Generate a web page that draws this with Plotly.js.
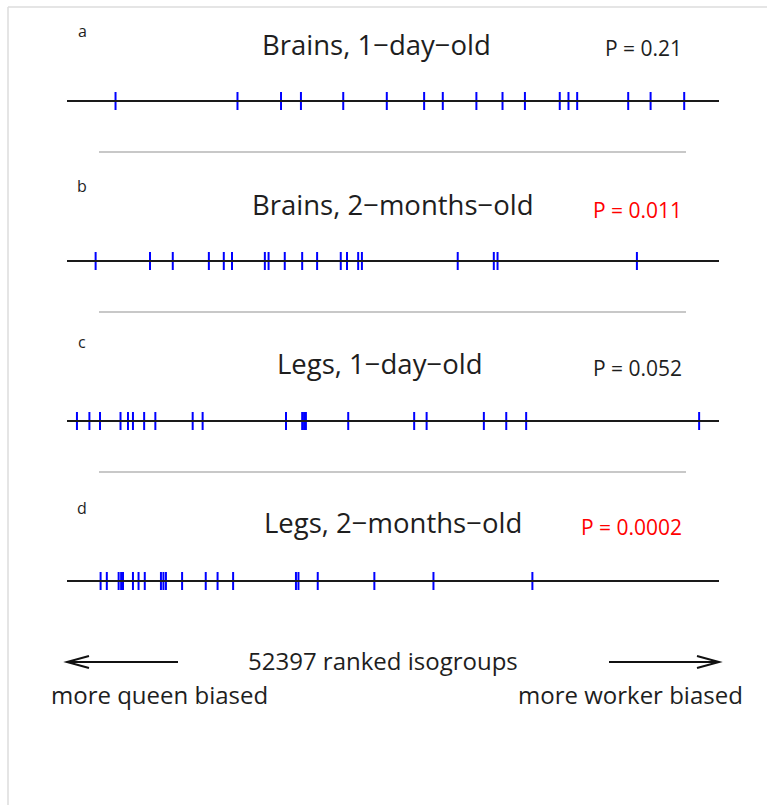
<!DOCTYPE html>
<html><head><meta charset="utf-8">
<script src="https://cdn.plot.ly/plotly-3.0.1.min.js"></script>
<style>html,body{margin:0;padding:0;background:#fff;}#chart{width:767px;height:805px;}</style>
</head><body><div id="chart"></div>
<script>
// ---- data ----
const totalIsogroups = 52397;
const panelLetters = ['a', 'b', 'c', 'd'];
const panelTitles = ['Brains, 1\u2212day\u2212old', 'Brains, 2\u2212months\u2212old', 'Legs, 1\u2212day\u2212old', 'Legs, 2\u2212months\u2212old'];
const pLabels = ['P = 0.21', 'P = 0.011', 'P = 0.052', 'P = 0.0002'];
const pValues = [0.21, 0.011, 0.052, 0.0002];
const brains1DayRanks = [3900, 13700, 17200, 18800, 22200, 25700, 28700, 30200, 32900, 35000, 36800, 39600, 40300, 41000, 45100, 46900, 49600];
const brains2MonthRanks = [2300, 6670, 8500, 11400, 12600, 13260, 15900, 16200, 17500, 18900, 20100, 22000, 22500, 23400, 23700, 31400, 34300, 34600, 45800];
const legs1DayRanks = [800, 1800, 2650, 4300, 4900, 5300, 6200, 7100, 10100, 10900, 17600, 18900, 19050, 19200, 22600, 27900, 28900, 33500, 35300, 36900, 50800];
const legs2MonthRanks = [2700, 3200, 4150, 4350, 4500, 5300, 5750, 6250, 7550, 7750, 7950, 9250, 11150, 12100, 13350, 18400, 18600, 20150, 24700, 29450, 37400];
const axisLabel = '52397 ranked isogroups';
const leftLabel = 'more queen biased';
const rightLabel = 'more worker biased';
const panelRanks = [brains1DayRanks, brains2MonthRanks, legs1DayRanks, legs2MonthRanks];

// ---- layout geometry ----
const W = 767, H = 805;
const lineLeft = 67, lineRight = 719;
const k = totalIsogroups / (lineRight - lineLeft);
const xRange = [-lineLeft * k, totalIsogroups + (W - lineRight) * k];
const rowY = [101, 261, 421, 581];
const titleY = [44, 204, 363, 522];
const pY = [48, 210, 368, 527];
const letterY = [31, 186, 342, 508];
const sepY = [152, 312, 472];
const tickHalf = 9;
const FONT = 'Open Sans, sans-serif';
const px = v => v / W;

const traces = [];
panelRanks.forEach((ranks, i) => {
  const xs = [], ys = [];
  ranks.forEach(r => { xs.push(r, r, null); ys.push(rowY[i] - tickHalf, rowY[i] + tickHalf, null); });
  traces.push({type: 'scatter', mode: 'lines', x: xs, y: ys, line: {color: '#0000ff', width: 2}, hoverinfo: 'skip'});
  traces.push({type: 'scatter', mode: 'lines', x: [0, totalIsogroups], y: [rowY[i], rowY[i]], line: {color: '#1a1a1a', width: 2}, hoverinfo: 'skip'});
});

const shapes = [];
sepY.forEach(y => shapes.push({type: 'line', xref: 'paper', yref: 'y', x0: px(99), x1: px(686), y0: y, y1: y, line: {color: '#c8c8c8', width: 2}}));
// frame
shapes.push({type: 'line', xref: 'paper', yref: 'y', x0: px(8), x1: 1, y0: 7, y1: 7, line: {color: '#dcdcdc', width: 1.5}});
shapes.push({type: 'line', xref: 'paper', yref: 'y', x0: px(8), x1: px(8), y0: 7, y1: H, line: {color: '#dcdcdc', width: 1.5}});
// arrows
const ay = 662;
shapes.push({type: 'path', xref: 'paper', yref: 'y',
  path: `M ${px(178)} ${ay} L ${px(67)} ${ay} M ${px(89)} ${ay - 6} L ${px(67)} ${ay} L ${px(89)} ${ay + 6}`,
  line: {color: '#111', width: 2}});
shapes.push({type: 'path', xref: 'paper', yref: 'y',
  path: `M ${px(609)} ${ay} L ${px(719)} ${ay} M ${px(697)} ${ay - 6} L ${px(719)} ${ay} L ${px(697)} ${ay + 6}`,
  line: {color: '#111', width: 2}});

const annotations = [];
const txt = (text, x, y, size, color, xanchor) => ({text, xref: 'paper', yref: 'y', x: px(x), y, xanchor: xanchor || 'center', yanchor: 'middle', showarrow: false, font: {family: FONT, size, color: color || '#1e1e1e'}});
panelTitles.forEach((t, i) => {
  annotations.push(txt(panelLetters[i], 82, letterY[i], 16));
  annotations.push(txt(t, [376, 393, 379, 393][i], titleY[i], 27.5));
  annotations.push(txt(pLabels[i], 684, pY[i], 21, pValues[i] < 0.05 ? '#ff0000' : '#1e1e1e', 'right'));
});
annotations.push(txt(axisLabel, 383, 660, 24));
annotations.push(txt(leftLabel, 159, 694, 24));
annotations.push(txt(rightLabel, 630, 694, 24));

Plotly.newPlot('chart', traces, {
  width: W, height: H, margin: {l: 0, r: 0, t: 0, b: 0},
  paper_bgcolor: '#fff', plot_bgcolor: '#fff', showlegend: false,
  xaxis: {range: xRange, visible: false, fixedrange: true},
  yaxis: {range: [H, 0], visible: false, fixedrange: true},
  shapes, annotations
}, {staticPlot: true});
</script></body></html>
